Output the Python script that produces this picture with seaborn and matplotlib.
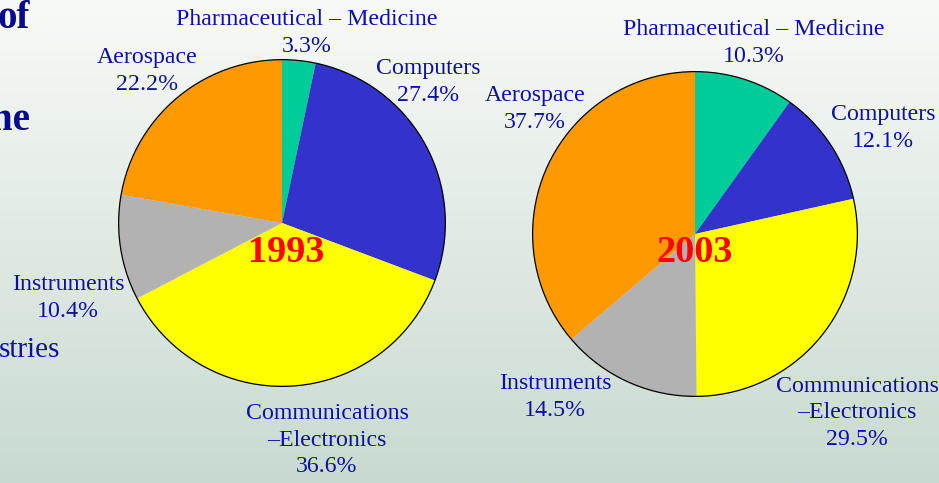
import numpy as np
import matplotlib
matplotlib.use("Agg")
import matplotlib.pyplot as plt
import seaborn as sns
from matplotlib.patches import Circle

sns.set_style("white")
plt.rcParams['font.family'] = ['Liberation Serif', 'DejaVu Serif']

# ---- data ----
sectors = ["Pharmaceutical – Medicine", "Computers", "Communications\n–Electronics",
           "Instruments", "Aerospace"]
share_1993 = [3.3, 27.4, 36.6, 10.4, 22.2]
share_2003 = [10.3, 12.1, 29.5, 14.5, 37.7]
years = ["1993", "2003"]
colors = sns.color_palette(["#00CC99", "#3333CC", "#FFFF00", "#B2B2B2", "#FF9900"])

TEXT = "#10109e"
W, H = 939, 483
fig = plt.figure(figsize=(W / 100, H / 100), dpi=100)

# background gradient
bg = fig.add_axes([0, 0, 1, 1], zorder=0)
grad = np.linspace(0, 1, 256)[:, None]
top = np.array([248, 250, 248]) / 255
bot = np.array([200, 218, 208]) / 255
img = top[None, None, :] * (1 - grad[:, :, None]) + bot[None, None, :] * grad[:, :, None]
bg.imshow(img, aspect='auto', extent=[0, 1, 0, 1])
bg.axis('off')

def px_axes(cx, cy, r):
    return [(cx - r) / W, (H - cy - r) / H, 2 * r / W, 2 * r / H]

pie_geom = [(282, 223, 165), (695, 234, 164)]
label_pos = [
    [(307, 33), (428, 82), (327, 440), (68, 298), (147, 71)],
    [(754, 43), (883, 128), (857, 413), (555, 397), (535, 109)],
]
year_pos = [(286, 253), (695, 253)]

for vals, year, (cx, cy, r), lpos, ypos in zip([share_1993, share_2003], years,
                                               pie_geom, label_pos, year_pos):
    ax = fig.add_axes(px_axes(cx, cy, r), zorder=1)
    ax.pie(vals, colors=colors, startangle=90, counterclock=False,
           wedgeprops=dict(linewidth=0), normalize=True)
    ax.add_patch(Circle((0, 0), 1, fill=False, edgecolor='black', linewidth=0.9))
    ax.set_xlim(-1.01, 1.01)
    ax.set_ylim(-1.01, 1.01)
    ax.axis('off')
    for name, v, (lx, ly) in zip(sectors, vals, lpos):
        fig.text(lx / W, 1 - ly / H, f"{name}\n{v:.1f}%", ha='center', va='center',
                 color=TEXT, fontsize=17.2, linespacing=1.33, zorder=3)
    fig.text(ypos[0] / W, 1 - ypos[1] / H, year, ha='center', va='center',
             color='#FF0000', fontsize=27.5, fontweight='bold', zorder=3)

# cut-off slide text on the left edge
fig.text(30 / W, 1 - 19 / H, "of", ha='right', va='center', color='#0a0a8c',
         fontsize=28, fontweight='bold', zorder=3)
fig.text(30 / W, 1 - 120 / H, "ne", ha='right', va='center', color='#0a0a8c',
         fontsize=28, fontweight='bold', zorder=3)
fig.text(60 / W, 1 - 350 / H, "stries", ha='right', va='center', color=TEXT,
         fontsize=21, zorder=3)

fig.savefig("out.png", dpi=100)
